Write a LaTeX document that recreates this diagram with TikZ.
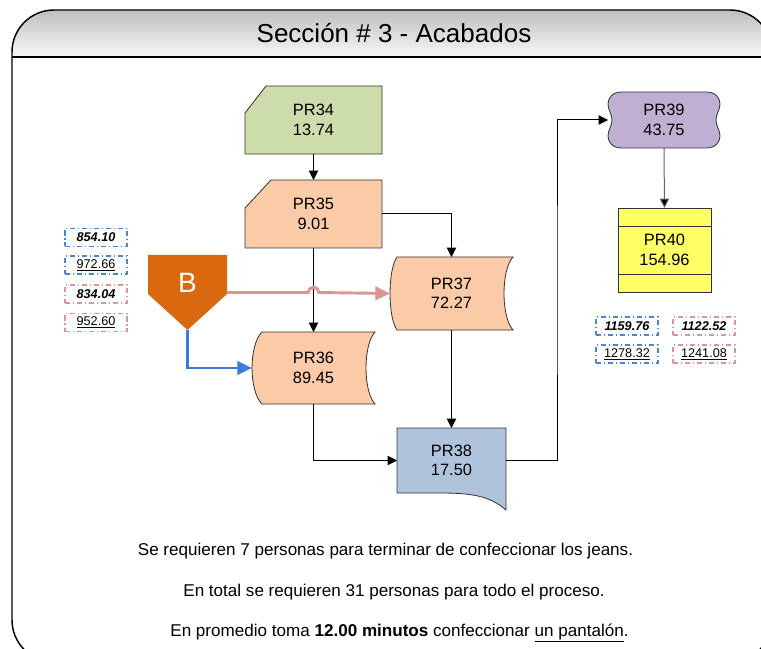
\documentclass[tikz,border=0pt]{standalone}
\usepackage{fontspec}
\setmainfont{Liberation Sans}
\usetikzlibrary{arrows.meta,calc}
\definecolor{cgreen}{HTML}{CCDCAA}
\definecolor{cpeach}{HTML}{FACBA6}
\definecolor{cbluegray}{HTML}{B0C3DD}
\definecolor{clav}{HTML}{BFB0D3}
\definecolor{cyellow}{HTML}{FFFF66}
\definecolor{corange}{HTML}{DA680F}
\definecolor{cpink}{HTML}{DA9694}
\definecolor{cblue}{HTML}{3A7CD8}
\definecolor{clblue}{HTML}{4A86D8}
\begin{document}
\begin{tikzpicture}[x=0.75pt,y=-0.75pt,
  shp/.style={draw=black!80, line width=0.6pt},
  txtbox/.style={inner sep=0pt, outer sep=0pt, align=center, font=\fontsize{12.3}{14.5}\selectfont},
  conn/.style={draw=black, line width=0.75pt, -{Triangle[length=7pt,width=7pt]}},
  lblbox/.style={line width=1pt, dash pattern=on 4pt off 2pt on 1pt off 2pt, minimum width=46.5pt, minimum height=13.5pt, inner sep=0pt, font=\fontsize{9.5}{11}\selectfont},
  bottomtxt/.style={font=\fontsize{12.8}{15}\selectfont, inner sep=0pt}]
\useasboundingbox (0,0) rectangle (761,649);
\clip (0,0) rectangle (761,649);
% frame
\begin{scope}
  \clip[rounded corners=31.5pt] (12,10) rectangle (772,662);
  \shade[top color=black!25, bottom color=black!3] (12,10) rectangle (772,57);
\end{scope}
\draw[line width=1.1pt, rounded corners=31.5pt] (12,10) rectangle (772,662);
\draw[line width=1.1pt] (12,57) -- (772,57);
\node[font=\fontsize{19.5}{22}\selectfont, inner sep=0pt] (title) at (394,33) {Sección \# 3 - Acabados};

% shapes
\path[shp, fill=cgreen] (245,113) -- (266,86) -- (382,86) -- (382,154) -- (245,154) -- cycle;
\path[shp, fill=cpeach] (245,208) -- (271,180) -- (382,180) -- (382,248) -- (245,248) -- cycle;
\path[shp, fill=cpeach] (397,257) .. controls (387.7,270) and (387.7,317) .. (397,330) -- (513,330)
   .. controls (501,317) and (501,270) .. (513,257) -- cycle;
\path[shp, fill=cpeach] (262,332) .. controls (248.7,345) and (248.7,391) .. (262,404) -- (375,404)
   .. controls (363,391) and (363,345) .. (375,332) -- cycle;
\path[shp, fill=cbluegray] (397,428) -- (506,428) -- (506,510) .. controls (490,496) and (472,493) .. (440,493) -- (397,493) -- cycle;
\path[shp, fill=clav] (622,92) -- (706,92) .. controls (716,92) and (720,98) .. (720,104)
   .. controls (720,110) and (716,114) .. (716,120) .. controls (716,126) and (720,130) .. (720,136)
   .. controls (720,142) and (716,148) .. (706,148) -- (622,148)
   .. controls (612,148) and (608,142) .. (608,136) .. controls (608,130) and (612,126) .. (612,120)
   .. controls (612,114) and (608,110) .. (608,104) .. controls (608,98) and (612,92) .. (622,92) -- cycle;
\path[shp, fill=cyellow] (618,208) rectangle (711,292);
\draw[black!80, line width=0.6pt] (618,226) -- (711,226) (618,274) -- (711,274);
\path[fill=corange] (148,255) -- (227,255) -- (227,294) -- (187.5,330) -- (148,294) -- cycle;

% nodes
\node[txtbox, minimum width=102.75pt, minimum height=51pt] (pr34) at (313.5,120) {PR34\\13.74};
\node[txtbox, minimum width=102.75pt, minimum height=51pt] (pr35) at (313.5,214) {PR35\\9.01};
\node[txtbox, minimum width=92.25pt, minimum height=54.75pt] (pr37) at (451.5,293.5) {PR37\\72.27};
\node[txtbox, minimum width=92.25pt, minimum height=54pt] (pr36) at (313.5,368) {PR36\\89.45};
\node[txtbox, minimum width=81.75pt, minimum height=48.75pt] (pr38) at (451.5,460.5) {PR38\\17.50};
\node[txtbox, minimum width=84pt, minimum height=42pt] (pr39) at (664,120) {PR39\\43.75};
\node[txtbox, minimum width=69.75pt, minimum height=63pt] (pr40) at (664.5,250) {PR40\\154.96};
\node[inner sep=0pt, outer sep=0pt, minimum width=59.25pt, minimum height=56.25pt] (B) at (187.5,292.5) {};
\node[font=\fontsize{21}{23}\selectfont, text=white, inner sep=0pt] (btxt) at (187.5,283) {B};

% connectors
\draw[conn] (pr34.south) -- (pr35.north);
\draw[conn] (pr35.east) -| (pr37.north);
\draw[conn] (pr35.south) -- (pr36.north);
\draw[conn] (pr37.south) -- (pr38.north);
\draw[conn] (pr36.south) |- (pr38.west);
\draw[conn] (pr38.east) -| ($(pr38.east)!0.5!(pr39.west)$) |- (pr39.west);
\draw[conn, draw=black!60, -{Triangle[length=7pt,width=7pt,fill=black]}] (pr39.south) -- (pr40.north);
\draw[cpink, line width=2.2pt, -{Triangle[length=11pt,width=10pt]}] (B.east) -- ($(pr35.south |- B.east)+(-4pt,0pt)$)
   arc[start angle=180, end angle=0, radius=4pt] -- (pr37.west);
\draw[cblue, line width=2.2pt, -{Triangle[length=11pt,width=10pt]}] (B.south) |- (pr36.west);

% labels
\node[lblbox, draw=clblue] (l1) at (96,237.5) {\textbf{\textit{854.10}}};
\node[lblbox, draw=clblue] (l2) at (96,265) {\underline{972.66}};
\node[lblbox, draw=cpink] (l3) at (96,294) {\textbf{\textit{834.04}}};
\node[lblbox, draw=cpink] (l4) at (96,322.5) {\underline{952.60}};
\node[lblbox, draw=clblue] (r1) at (627,326) {\textbf{\textit{1159.76}}};
\node[lblbox, draw=cpink] (r2) at (704,326) {\textbf{\textit{1122.52}}};
\node[lblbox, draw=clblue] (r3) at (627,354) {\underline{1278.32}};
\node[lblbox, draw=cpink] (r4) at (704,354) {\underline{1241.08}};

% bottom texts
\node[bottomtxt] (t1) at (385.5,551) {Se requieren 7 personas para terminar de confeccionar los jeans.};
\node[bottomtxt] (t2) at (394,592) {En total se requieren 31 personas para todo el proceso.};
\node[bottomtxt] (t3) at (399.5,633) {En promedio toma \textbf{12.00 minutos} confeccionar \underline{un pantalón}.};
\end{tikzpicture}
\end{document}
